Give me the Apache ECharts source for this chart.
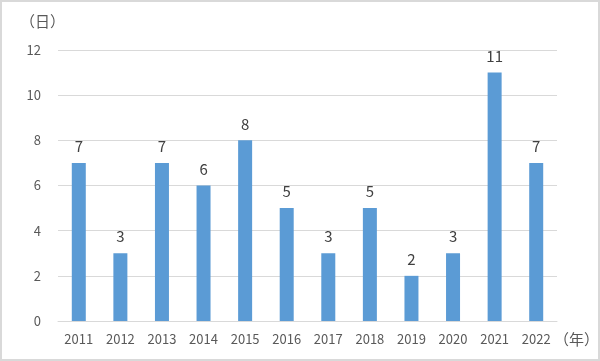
<!DOCTYPE html>
<html><head><meta charset="utf-8">
<script src="https://cdn.jsdelivr.net/npm/echarts@6/dist/echarts.min.js"></script>
<style>html,body{margin:0;padding:0;background:#fff;}#c{width:600px;height:361px;box-sizing:border-box;border:2px solid #d9d9d9;}</style>
</head><body><div id="c"></div>
<script>
const categories = ['2011','2012','2013','2014','2015','2016','2017','2018','2019','2020','2021','2022'];
const values = [7,3,7,6,8,5,3,5,2,3,11,7];
const yUnit = '（日）';
const xUnit = '（年）';
const chart = echarts.init(document.getElementById('c'));
const font = '"Noto Sans CJK JP", "Noto Sans", sans-serif';
chart.setOption({
  animation:false,
  grid:{left:56,right:41,top:48,bottom:38},
  xAxis:{type:'category',data:categories,
    axisLine:{lineStyle:{color:'#d9d9d9'}},axisTick:{show:false},
    axisLabel:{color:'#595959',fontSize:13,fontFamily:font,margin:12}},
  yAxis:{type:'value',min:0,max:12,interval:2,
    axisLine:{show:false},axisTick:{show:false},
    splitLine:{lineStyle:{color:'#d9d9d9'}},
    axisLabel:{color:'#595959',fontSize:13,fontFamily:font,margin:17}},
  graphic:[
    {type:'text',left:18,top:12,style:{text:yUnit,fill:'#595959',font:'15px '+font}},
    {type:'text',left:552,top:330,style:{text:xUnit,fill:'#595959',font:'15px '+font}}
  ],
  series:[{type:'bar',data:values,barWidth:14,
    itemStyle:{color:'#5B9BD5'},
    label:{show:true,position:'top',distance:9,color:'#404040',fontSize:15,fontFamily:font}}]
});
</script></body></html>
